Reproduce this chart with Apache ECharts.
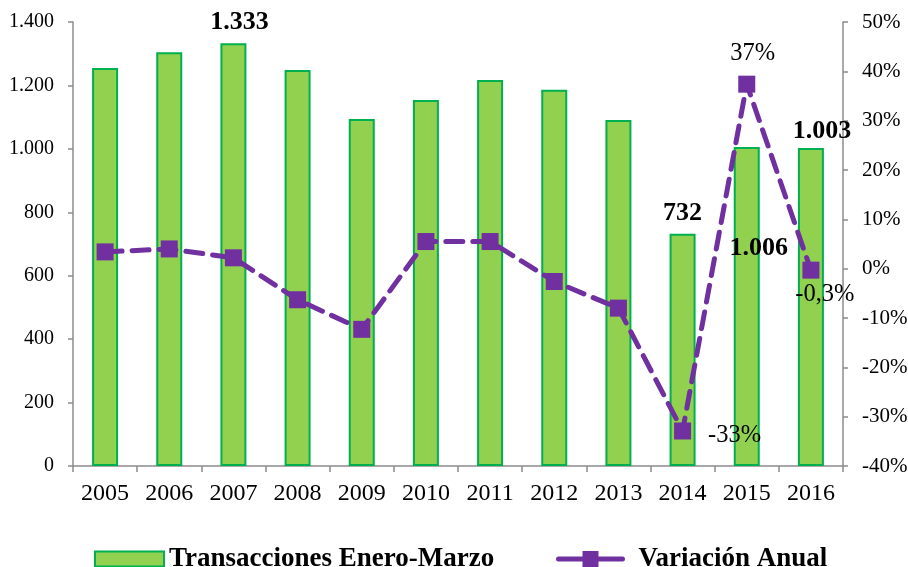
<!DOCTYPE html>
<html>
<head>
<meta charset="utf-8">
<script src="https://cdn.jsdelivr.net/npm/echarts@6/dist/echarts.min.js"></script>
<style>
html, body { margin: 0; padding: 0; background: #fff; }
#chart { width: 908px; height: 567px; }
</style>
</head>
<body>
<div id="chart"></div>
<script>
// datos
var years = ['2005', '2006', '2007', '2008', '2009', '2010', '2011', '2012', '2013', '2014', '2015', '2016'];
var transacciones = [1255, 1305, 1333, 1249, 1094, 1154, 1217, 1186, 1091, 732, 1006, 1003];
var variacion = [3.4, 4.0, 2.2, -6.3, -12.3, 5.5, 5.5, -2.6, -8.0, -32.9, 37.4, -0.3];
var barLabelIdx = [2, 9, 10, 11];
var lineLabelIdx = [9, 10, 11];

var fontFam = '"Liberation Serif", "Times New Roman", serif';

function miles(v) {
	var s = String(Math.round(Math.abs(v)));
	s = s.replace(/\B(?=(\d{3})+(?!\d))/g, '.');
	return (v < 0 ? '-' : '') + s;
}

var barLabelCfg = {
	2 : { offset : [6, -3] },
	9 : { offset : [0, -3] },
	10 : { offset : [12, 119] },
	11 : { offset : [11, 1] }
};
var lineLabelCfg = {
	9 : { position : 'right', offset : [12, 5], text : '-33%' },
	10 : { position : 'top', offset : [6, -5], text : '37%' },
	11 : { position : 'bottom', offset : [14, -2], text : '-0,3%' }
};

var barData = transacciones.map(function (v, i) {
	var item = { value : v };
	if (barLabelIdx.indexOf(i) >= 0) {
		item.label = {
			show : true,
			position : 'top',
			offset : barLabelCfg[i].offset,
			formatter : miles(v),
			fontFamily : fontFam,
			fontWeight : 'bold',
			fontSize : 26,
			color : '#000'
		};
	}
	return item;
});

var lineData = variacion.map(function (v, i) {
	var item = { value : v };
	if (lineLabelIdx.indexOf(i) >= 0) {
		item.label = {
			show : true,
			position : lineLabelCfg[i].position,
			offset : lineLabelCfg[i].offset,
			formatter : lineLabelCfg[i].text,
			fontFamily : fontFam,
			fontSize : 24.5,
			color : '#000'
		};
	}
	return item;
});

var axisLine = { show : true, lineStyle : { color : '#8c8c8c', width : 1.5 } };
var axisTick = { show : true, length : 5, lineStyle : { color : '#8c8c8c', width : 1.5 } };
var legendText = { fontFamily : fontFam, fontWeight : 'bold', fontSize : 27, lineHeight : 30, color : '#000' };

var myChart = echarts.init(document.getElementById('chart'));
var option = {
	backgroundColor : '#fff',
	animation : false,
	grid : { left : 73, right : 65, top : 22, bottom : 101, outerBoundsMode : 'none', containLabel : false },
	legend : [ {
		top : 539,
		left : 89,
		icon : 'rect',
		itemWidth : 69,
		itemHeight : 15,
		textStyle : legendText,
		data : ['Transacciones Enero-Marzo']
	}, {
		top : 539,
		left : 551,
		itemWidth : 64,
		itemHeight : 20,
		lineStyle : { type : 'solid', width : 5, cap : 'round' },
		textStyle : echarts.util.extend({ padding : [0, 0, 0, 11] }, legendText),
		data : ['Variación Anual']
	} ],
	xAxis : {
		type : 'category',
		data : years,
		axisLine : axisLine,
		axisTick : { show : true, length : 6, lineStyle : { color : '#8c8c8c', width : 1.5 } },
		axisLabel : { fontFamily : fontFam, fontSize : 24, color : '#000', margin : 16 }
	},
	yAxis : [ {
		type : 'value',
		min : 0,
		max : 1400,
		interval : 200,
		splitLine : { show : false },
		axisLine : axisLine,
		axisTick : axisTick,
		axisLabel : {
			fontFamily : fontFam, fontSize : 20, color : '#000', margin : 19,
			formatter : function (v) { return miles(v); }
		}
	}, {
		type : 'value',
		min : -40,
		max : 50,
		interval : 10,
		splitLine : { show : false },
		axisLine : axisLine,
		axisTick : axisTick,
		axisLabel : {
			fontFamily : fontFam, fontSize : 21, color : '#000', margin : 19,
			formatter : '{value}%'
		}
	} ],
	series : [ {
		name : 'Transacciones Enero-Marzo',
		type : 'bar',
		barWidth : 26,
		itemStyle : { color : '#92d050', borderColor : '#00b050', borderWidth : 2 },
		data : barData
	}, {
		name : 'Variación Anual',
		type : 'line',
		yAxisIndex : 1,
		symbol : 'rect',
		symbolSize : 17,
		itemStyle : { color : '#7030a0' },
		lineStyle : { color : '#7030a0', width : 5, type : [17, 10], cap : 'round' },
		z : 3,
		data : lineData
	} ]
};
myChart.setOption(option);
</script>
</body>
</html>
